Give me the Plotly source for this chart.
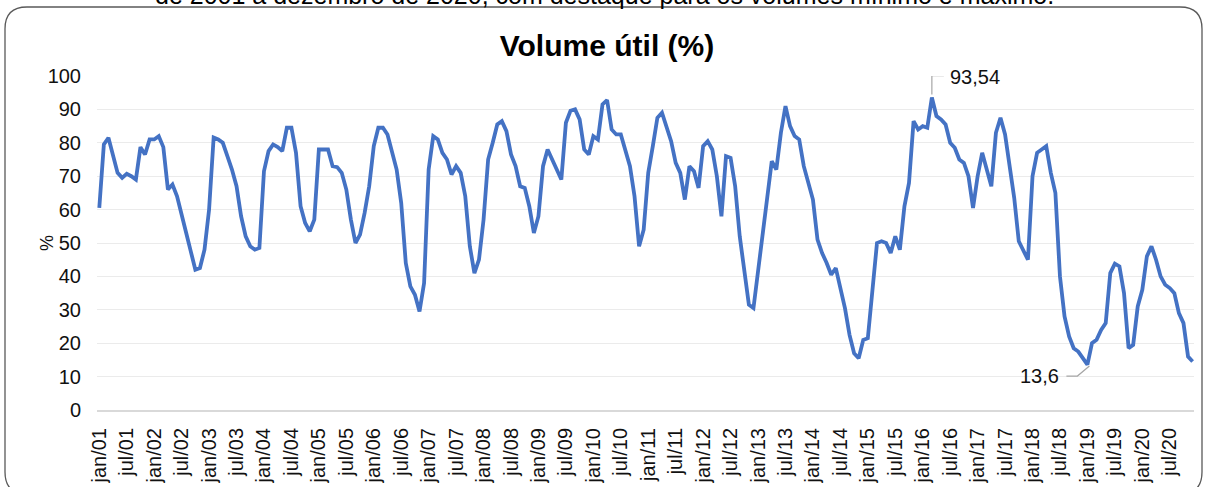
import plotly.graph_objects as go

# Volume útil mensal (%) - jan/2001 a dez/2020
vol_2001 = [60.5, 79.5, 81.5, 76, 71, 69.5, 70.7, 70, 69, 78.7, 76.5, 81]
vol_2002 = [81, 82, 78.7, 66, 67.5, 64, 59, 53, 47.5, 42, 42.5, 48]
vol_2003 = [60, 81.6, 81, 80, 76, 72, 67, 58, 52, 49, 48, 48.5]
vol_2004 = [71.5, 77.5, 79.5, 78.7, 77.5, 84.5, 84.5, 77, 61, 56, 53.5, 57]
vol_2005 = [78, 78, 78, 73, 72.7, 71, 66, 57, 50, 52.5, 59, 67]
vol_2006 = [79, 84.5, 84.5, 82.5, 77.5, 72, 62, 44, 37, 34.5, 29.5, 38]
vol_2007 = [72, 82, 81, 77, 75, 70.5, 73, 71, 64, 49, 41, 45]
vol_2008 = [57, 75, 80, 85.5, 86.5, 83.5, 76.5, 73, 67, 66.5, 61, 53]
vol_2009 = [58, 73, 78, 75, 72, 69, 86, 89.6, 90, 87, 78, 76.5]
vol_2010 = [82, 81, 91.5, 92.8, 84, 82.5, 82.5, 78, 73, 64, 49, 54]
vol_2011 = [71, 79, 87.5, 89, 85, 80.5, 74, 71, 63, 73, 71.5, 66.5]
vol_2012 = [79, 80.5, 78, 70, 58, 76, 75.5, 67, 52, 41, 31.5, 30.5]
vol_2013 = [41, 53, 64, 74.5, 72, 83, 91, 85, 82, 81, 73, 68]
vol_2014 = [63, 51, 47, 44, 40.5, 42.5, 36, 30.5, 22.5, 17, 15.5, 21]
vol_2015 = [21.5, 36, 50, 50.5, 50, 47, 52, 48, 61, 68, 86.5, 84]
vol_2016 = [85, 84.5, 93.54, 88, 87, 85.5, 80, 78.5, 75, 74, 70, 60.5]
vol_2017 = [70, 77, 71.5, 67, 83, 87.5, 82.5, 73, 63.5, 50.5, 48, 45]
vol_2018 = [70, 77, 78, 79, 71, 65, 40, 28, 22, 18.5, 17.5, 15.5]
vol_2019 = [13.6, 20, 21, 24, 26, 41, 43.8, 43, 35, 18.5, 19.5, 31]
vol_2020 = [36, 46, 49, 45, 40, 37.5, 36.5, 35, 29, 26, 16, 14.5]

meses = ["jan", "fev", "mar", "abr", "mai", "jun",
         "jul", "ago", "set", "out", "nov", "dez"]
anos = list(range(1, 21))
rotulos = [f"{m}/{a:02d}" for a in anos for m in meses]

volume = (vol_2001 + vol_2002 + vol_2003 + vol_2004 + vol_2005 + vol_2006 +
          vol_2007 + vol_2008 + vol_2009 + vol_2010 + vol_2011 + vol_2012 +
          vol_2013 + vol_2014 + vol_2015 + vol_2016 + vol_2017 + vol_2018 +
          vol_2019 + vol_2020)

FONTE = "Liberation Sans, Arial, sans-serif"
W, H = 1206, 487
L, R, T, B = 97, 12, 76, 77
pw = W - L - R
ph = H - T - B


def px(x):
    return (x - L) / pw


def py(y):
    return (H - B - y) / ph


def num_br(v):
    s = f"{v:.2f}".rstrip("0").rstrip(".")
    return s.replace(".", ",")


i_max = max(range(len(volume)), key=lambda i: volume[i])
i_min = min(range(len(volume)), key=lambda i: volume[i])

fig = go.Figure()
fig.add_trace(go.Scatter(
    x=rotulos,
    y=volume,
    mode="lines",
    line=dict(color="#4472C4", width=3.8),
    hoverinfo="x+y",
    showlegend=False,
))

# moldura arredondada do gráfico
x1, x2, y1, y2, r = 5, 1202, 7, 494, 22
borda = (f"M {px(x1 + r)},{py(y1)} L {px(x2 - r)},{py(y1)} "
         f"Q {px(x2)},{py(y1)} {px(x2)},{py(y1 + r)} "
         f"L {px(x2)},{py(y2 - r)} Q {px(x2)},{py(y2)} {px(x2 - r)},{py(y2)} "
         f"L {px(x1 + r)},{py(y2)} Q {px(x1)},{py(y2)} {px(x1)},{py(y2 - r)} "
         f"L {px(x1)},{py(y1 + r)} Q {px(x1)},{py(y1)} {px(x1 + r)},{py(y1)} Z")

shapes = [
    dict(type="path", xref="paper", yref="paper", path=borda,
         line=dict(color="#595959", width=1.3)),
    # linhas de chamada dos rótulos de máximo e mínimo
    dict(type="path", xref="x", yref="y", xsizemode="pixel", ysizemode="pixel",
         xanchor=rotulos[i_max], yanchor=volume[i_max],
         path="M 0,3 L 0,22 L 12,22",
         line=dict(color="#a6a6a6", width=1.2)),
    dict(type="path", xref="x", yref="y", xsizemode="pixel", ysizemode="pixel",
         xanchor=rotulos[i_min], yanchor=volume[i_min],
         path="M -21,-11.5 L -10,-11.5 L 2,-1.5",
         line=dict(color="#a6a6a6", width=1.2)),
]

annotations = [
    dict(x=rotulos[i_max], y=volume[i_max], text=num_br(volume[i_max]),
         showarrow=False, xshift=43, yshift=21,
         font=dict(family=FONTE, size=20, color="#111111")),
    dict(x=rotulos[i_min], y=volume[i_min], text=num_br(volume[i_min]),
         showarrow=False, xshift=-48, yshift=-11,
         font=dict(family=FONTE, size=20, color="#111111")),
    dict(xref="paper", yref="paper", x=px(35), y=0.5, text="%",
         textangle=-90, showarrow=False,
         font=dict(family=FONTE, size=18, color="#111111")),
    # legenda da figura no documento, cortada no topo
    dict(xref="paper", yref="paper", x=px(604), y=py(11), yanchor="bottom",
         text="de 2001 a dezembro de 2020, com destaque para os volumes mínimo e máximo.",
         showarrow=False, font=dict(family=FONTE, size=25, color="#000000")),
]

fig.update_layout(
    width=W,
    height=H,
    margin=dict(l=L, r=R, t=T, b=B, autoexpand=False),
    paper_bgcolor="white",
    plot_bgcolor="white",
    font=dict(family=FONTE, size=20, color="#111111"),
    title=dict(text="<b>Volume útil (%)</b>", x=607 / W, xref="container",
               xanchor="center", y=1 - 45 / H, yref="container",
               yanchor="middle",
               font=dict(family=FONTE, size=30, color="#000000")),
    xaxis=dict(
        type="category",
        range=[-0.5, 239.3],
        automargin=False,
        tickmode="array",
        tickvals=rotulos[::6],
        ticktext=rotulos[::6],
        tickangle=-90,
        ticks="",
        ticklabelstandoff=8,
        showgrid=False,
        showline=True,
        linecolor="#d9d9d9",
        linewidth=2,
        tickfont=dict(family=FONTE, size=20, color="#111111"),
    ),
    yaxis=dict(
        range=[0, 100],
        dtick=10,
        automargin=False,
        showgrid=True,
        gridcolor="#ebebeb",
        gridwidth=1.3,
        zeroline=False,
        showline=False,
        ticks="",
        ticklabelstandoff=15,
        tickfont=dict(family=FONTE, size=20, color="#111111"),
    ),
    shapes=shapes,
    annotations=annotations,
)

# a página do navegador tem margem padrão de 8px; zera para alinhar a figura
fig.write_html("out.html", config={"displayModeBar": False},
               post_script="document.body.style.margin = '0';")
